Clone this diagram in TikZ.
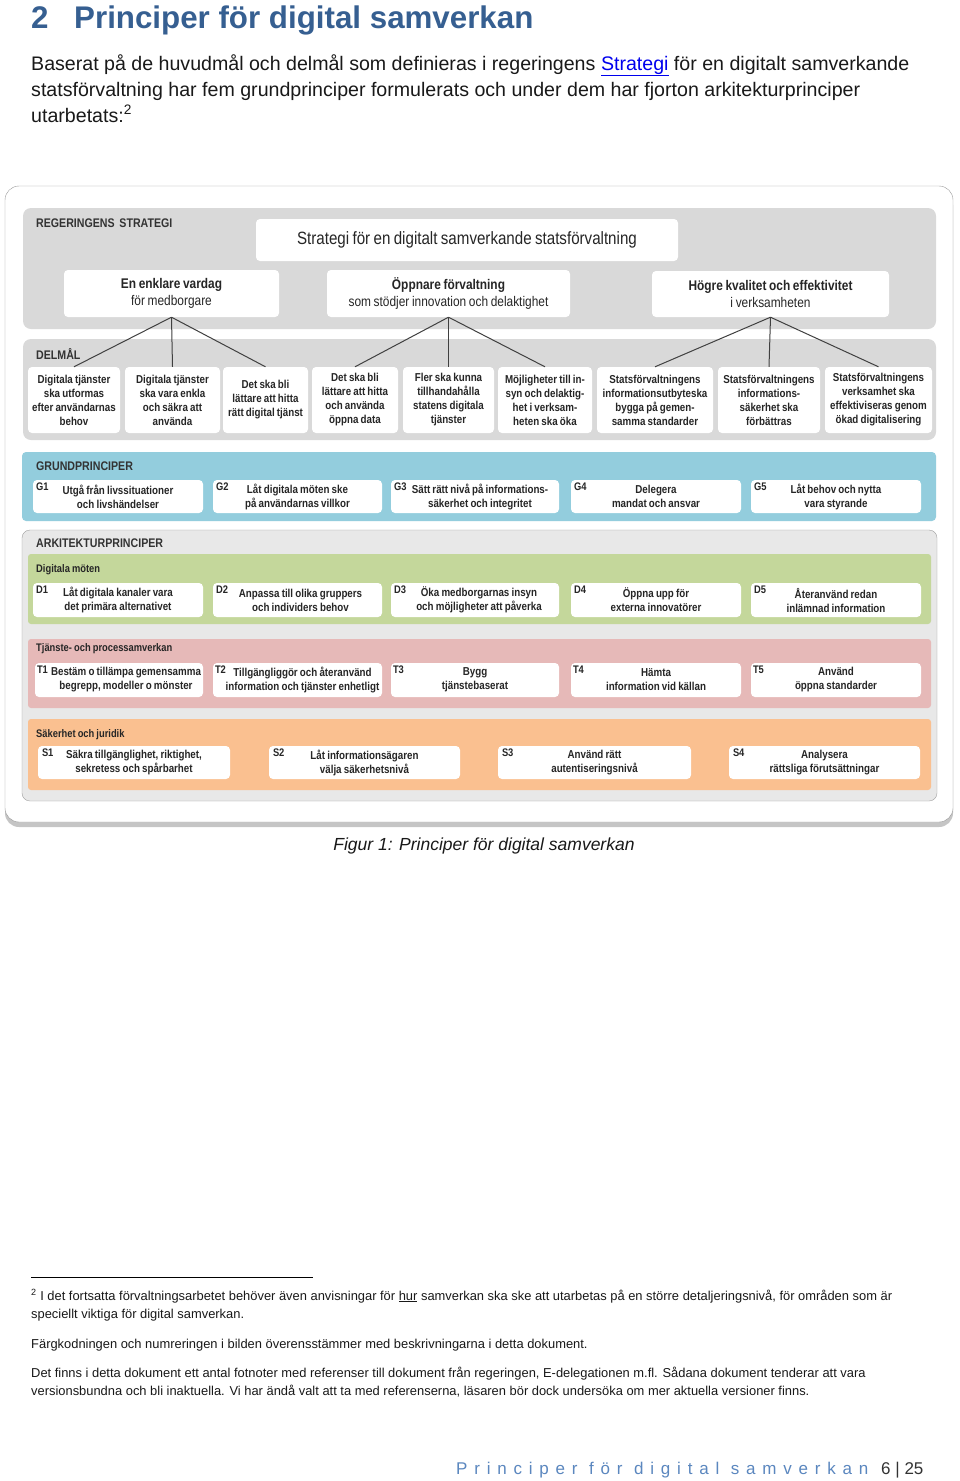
\documentclass[tikz,border=0pt]{standalone}
\usepackage{fontspec}
\setmainfont{Liberation Sans}
\newfontfamily\narrowfont[FakeStretch=0.85,WordSpace=0.8]{Liberation Sans}
\newfontfamily\spacedfont[LetterSpace=40]{Liberation Sans}
\usetikzlibrary{fit,shadows}
\definecolor{headblue}{HTML}{365F91}
\definecolor{linkblue}{HTML}{0000EE}
\definecolor{panelgray}{HTML}{D9D9D9}
\definecolor{grundblue}{HTML}{93CDDD}
\definecolor{arkgray}{HTML}{E8E8E8}
\definecolor{dgreen}{HTML}{C4D79B}
\definecolor{tpink}{HTML}{E6B9B8}
\definecolor{sorange}{HTML}{FAC090}
\definecolor{footblue}{HTML}{5B87BF}
\tikzset{
  wbox/.style={fill=white, rounded corners=4pt, inner sep=0pt},
  btxt/.style={align=center, font=\narrowfont\bfseries\fontsize{11.5}{14}\selectfont, text=black!85, inner sep=0pt},
  code/.style={anchor=north west, font=\narrowfont\bfseries\fontsize{11}{13}\selectfont, text=black!85, inner sep=0pt},
  seclbl/.style={anchor=west, font=\narrowfont\bfseries\fontsize{12.5}{15}\selectfont, text=black!80, inner sep=0pt},
  sublbl/.style={anchor=west, font=\narrowfont\bfseries\fontsize{11}{14}\selectfont, text=black!85, inner sep=0pt},
  toptxt/.style={align=center, font=\narrowfont\fontsize{14}{17}\selectfont, text=black!85, inner sep=0pt},
  tree/.style={draw=black!75, line width=1pt},
  bodytxt/.style={anchor=base west, font=\fontsize{19.6}{26}\selectfont, text=black!90, inner sep=0pt},
  foottxt/.style={anchor=base west, font=\fontsize{12.9}{18}\selectfont, text=black!90, inner sep=0pt},
}
\begin{document}
\begin{tikzpicture}[x=1pt,y=-1pt]
\useasboundingbox (0,0) rectangle (960,1481);
\fill[white] (0,0) rectangle (960,1481);
% heading and text
\node[anchor=base west, inner sep=0pt, font=\bfseries\fontsize{31.3}{36}\selectfont, text=headblue] (hnum) at (31,28) {2};
\node[anchor=base west, inner sep=0pt, font=\bfseries\fontsize{31.3}{36}\selectfont, text=headblue] (htitle) at (74,28) {Principer för digital samverkan};
\node[bodytxt] (intro1) at (31,70) {Baserat på de huvudmål och delmål som definieras i regeringens \textcolor{linkblue}{\underline{Strategi}} för en digitalt samverkande};
\node[bodytxt] (intro2) at (31,96) {statsförvaltning har fem grundprinciper formulerats och under dem har fjorton arkitekturprinciper};
\node[bodytxt] (intro3) at (31,122) {utarbetats:\textsuperscript{2}};
% frame
\draw[draw=gray!80, fill=white, rounded corners=14pt, drop shadow={shadow xshift=0pt, shadow yshift=-5pt, opacity=0.45}] (5,186) rectangle (953,822);
% regeringens strategi
\fill[panelgray, rounded corners=8pt] (23,208) rectangle (936,329);
\node[seclbl] (reglbl) at (36,223) {REGERINGENS\ \ STRATEGI};
\node[wbox, fit={(256,219) (678,261)}] (strat) {};
\node[toptxt, font=\narrowfont\fontsize{17.8}{20}\selectfont] (strattxt) at (strat.center) {Strategi för en digitalt samverkande statsförvaltning};
\node[wbox, fit={(64,270) (279,317)}] (mal1) {};
\node[wbox, fit={(327,270) (570,317)}] (mal2) {};
\node[wbox, fit={(652,271) (889,317)}] (mal3) {};
\node[toptxt] (malt1) at (mal1.center) {{\bfseries En enklare vardag}\\för medborgare};
\node[toptxt] (malt2) at (mal2.center) {{\bfseries Öppnare förvaltning}\\som stödjer innovation och delaktighet};
\node[toptxt] (malt3) at (mal3.center) {{\bfseries Högre kvalitet och effektivitet}\\i verksamheten};
% delmal
\fill[panelgray, rounded corners=8pt] (23,339) rectangle (936,440);
\node[seclbl] (dmlbl) at (36,354) {DELMÅL};
\foreach \n/\xa/\xb/\txt in {1/28/120/{Digitala tjänster\\ska utformas\\efter användarnas\\behov},
  2/125/220/{Digitala tjänster\\ska vara enkla\\och säkra att\\använda},
  3/223/308/{Det ska bli\\lättare att hitta\\rätt digital tjänst},
  4/312/398/{Det ska bli\\lättare att hitta\\och använda\\öppna data},
  5/403/494/{Fler ska kunna\\tillhandahålla\\statens digitala\\tjänster},
  6/498/592/{Möjligheter till in-\\syn och delaktig-\\het i verksam-\\heten ska öka},
  7/597/713/{Statsförvaltningens\\informationsutbyteska\\bygga på gemen-\\samma standarder},
  8/718/820/{Statsförvaltningens\\informations-\\säkerhet ska\\förbättras},
  9/825/932/{Statsförvaltningens\\verksamhet ska\\effektiviseras genom\\ökad digitalisering}} {
  \node[wbox, fit={(\xa,367) (\xb,433)}] (dm\n) {};
  \node[btxt] (dmt\n) at (dm\n.center) {\txt};
}
\draw[tree] (mal1.south) -- (dm1.north);
\draw[tree] (mal1.south) -- (dm2.north);
\draw[tree] (mal1.south) -- (dm3.north);
\draw[tree] (mal2.south) -- (dm4.north);
\draw[tree] (mal2.south) -- (dm5.north);
\draw[tree] (mal2.south) -- (dm6.north);
\draw[tree] (mal3.south) -- (dm7.north);
\draw[tree] (mal3.south) -- (dm8.north);
\draw[tree] (mal3.south) -- (dm9.north);
% grundprinciper
\fill[grundblue, rounded corners=4pt] (22,452) rectangle (936,521);
\node[seclbl] (glbl) at (36,466) {GRUNDPRINCIPER};
\foreach \n/\xa/\xb/\sh/\txt in {1/33/203/0/{Utgå från livssituationer\\och livshändelser},
  2/213/382/0/{Låt digitala möten ske\\på användarnas villkor},
  3/391/559/5/{Sätt rätt nivå på informations-\\säkerhet och integritet},
  4/571/741/0/{Delegera\\mandat och ansvar},
  5/751/921/0/{Låt behov och nytta\\vara styrande}} {
  \node[wbox, fit={(\xa,480) (\xb,513)}] (g\n) {};
  \node[code] (gc\n) at ([shift={(3pt,-3pt)}]g\n.north west) {G\n};
  \node[btxt] (gt\n) at ([xshift=\sh pt]g\n.center) {\txt};
}
% arkitekturprinciper
\draw[draw=gray!75, fill=arkgray, rounded corners=8pt] (22,530) rectangle (937,801);
\node[seclbl] (albl) at (36,543) {ARKITEKTURPRINCIPER};
\fill[dgreen, rounded corners=3pt] (28,554) rectangle (931,624);
\node[sublbl] (dlbl) at (36,570) {Digitala möten};
\foreach \n/\xa/\xb/\sh/\txt in {1/33/203/0/{Låt digitala kanaler vara\\det primära alternativet},
  2/213/382/3/{Anpassa till olika gruppers\\och individers behov},
  3/391/559/4/{Öka medborgarnas insyn\\och möjligheter att påverka},
  4/571/741/0/{Öppna upp för\\externa innovatörer},
  5/751/921/0/{Återanvänd redan\\inlämnad information}} {
  \node[wbox, fit={(\xa,583) (\xb,617)}] (d\n) {};
  \node[code] (dc\n) at ([shift={(3pt,-3pt)}]d\n.north west) {D\n};
  \node[btxt] (dt\n) at ([xshift=\sh pt]d\n.center) {\txt};
}
\fill[tpink, rounded corners=3pt] (28,639) rectangle (931,708);
\node[sublbl] (tlbl) at (36,649) {Tjänste- och processamverkan};
\foreach \n/\xa/\xb/\sh/\txt in {1/35/203/7/{Bestäm o tillämpa gemensamma\\begrepp, modeller o mönster},
  2/213/382/5/{Tillgängliggör och återanvänd\\information och tjänster enhetligt},
  3/391/559/0/{Bygg\\tjänstebaserat},
  4/571/741/0/{Hämta\\information vid källan},
  5/751/921/0/{Använd\\öppna standarder}} {
  \node[wbox, fit={(\xa,663) (\xb,697)}] (t\n) {};
  \node[code] (tc\n) at ([shift={(2pt,-3pt)}]t\n.north west) {T\n};
  \node[btxt] (tt\n) at ([xshift=\sh pt]t\n.center) {\txt};
}
\fill[sorange, rounded corners=3pt] (28,719) rectangle (931,790);
\node[sublbl] (slbl) at (36,735) {Säkerhet och juridik};
\foreach \n/\xa/\xb/\sh/\txt in {1/38/230/0/{Säkra tillgänglighet, riktighet,\\sekretess och spårbarhet},
  2/269/460/0/{Låt informationsägaren\\välja säkerhetsnivå},
  3/498/691/0/{Använd rätt\\autentiseringsnivå},
  4/729/920/0/{Analysera\\rättsliga förutsättningar}} {
  \node[wbox, fit={(\xa,746) (\xb,779)}] (s\n) {};
  \node[code] (sc\n) at ([shift={(4pt,-3pt)}]s\n.north west) {S\n};
  \node[btxt] (st\n) at ([xshift=\sh pt]s\n.center) {\txt};
}
% caption
\node[inner sep=0pt, font=\itshape\fontsize{17.5}{20}\selectfont, text=black!90] (caption) at (484,846) {Figur 1: Principer för digital samverkan};
% footnotes
\coordinate (rulea) at (31,1277);
\coordinate (ruleb) at (313,1277);
\draw[line width=0.7pt] (rulea) -- (ruleb);
\node[foottxt] (fn1) at (31,1300) {\textsuperscript{2} I det fortsatta förvaltningsarbetet behöver även anvisningar för \underline{hur} samverkan ska ske att utarbetas på en större detaljeringsnivå, för områden som är};
\node[foottxt] (fn2) at (31,1318) {speciellt viktiga för digital samverkan.};
\node[foottxt] (fn3) at (31,1348) {Färgkodningen och numreringen i bilden överensstämmer med beskrivningarna i detta dokument.};
\node[foottxt] (fn4) at (31,1377) {Det finns i detta dokument ett antal fotnoter med referenser till dokument från regeringen, E-delegationen m.fl. Sådana dokument tenderar att vara};
\node[foottxt] (fn5) at (31,1395) {versionsbundna och bli inaktuella. Vi har ändå valt att ta med referenserna, läsaren bör dock undersöka om mer aktuella versioner finns.};
% page footer
\node[anchor=base west, inner sep=0pt, font=\spacedfont\fontsize{17}{20}\selectfont, text=footblue] (ftitle) at (456,1474) {Principer för digital samverkan};
\node[anchor=base west, inner sep=0pt, font=\fontsize{17}{20}\selectfont, text=black!80] (fpage) at (881,1474) {6 | 25};
\end{tikzpicture}
\end{document}
